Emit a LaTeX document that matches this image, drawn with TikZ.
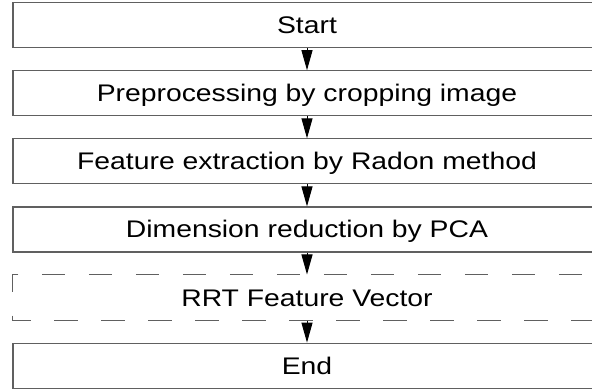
\documentclass[tikz,border=0pt]{standalone}
\usepackage{fontspec}
\setmainfont{Liberation Sans}[FakeStretch=1.18]
\usetikzlibrary{arrows.meta}
\definecolor{boxgray}{RGB}{96,96,96}
\begin{document}
\begin{tikzpicture}[x=1pt,y=-1pt,
  stagebox/.style={line width=1.2pt, minimum width=588pt, minimum height=45pt,
    inner sep=0pt, text height=17pt, text depth=0pt, font=\fontsize{24}{28}\selectfont},
  solidbox/.style={stagebox, draw=boxgray},
  flow/.style={line width=1pt, black, -{Triangle[width=11pt,length=20pt]}},
  dashedge/.style={draw=boxgray, line width=1.2pt, dash pattern=on 23.5pt off 23.5pt}]
\useasboundingbox (0,0) rectangle (592,390);
\clip (0,0) rectangle (592,390);

% the six stages of the pipeline
\node[solidbox] (start) at (307,25.2)  {Start};
\node[solidbox] (prep)  at (307,93.3)  {Preprocessing by cropping image};
\node[solidbox] (feat)  at (307,161.4) {Feature extraction by Radon method};
\node[solidbox] (dim)   at (307,229.5) {Dimension reduction by PCA};
\node[stagebox] (rrt)   at (307,297.6) {RRT Feature Vector};
\node[solidbox] (end)   at (307,365.7) {End};

% dashed outline of the feature-vector stage
\coordinate (rrtcut) at ([xshift=6pt]rrt.north west);
\draw[dashedge] (rrtcut) -- (rrt.north west) -- (rrt.south west) -- (rrt.south east);
\draw[dashedge, dash phase=23.5pt] (rrtcut) -- (rrt.north east);

% connectors
\draw[flow] (start) -- (prep);
\draw[flow] (prep) -- (feat);
\draw[flow] (feat) -- (dim);
\draw[flow] (dim) -- (rrt);
\draw[flow] (rrt) -- (end);
\end{tikzpicture}
\end{document}
